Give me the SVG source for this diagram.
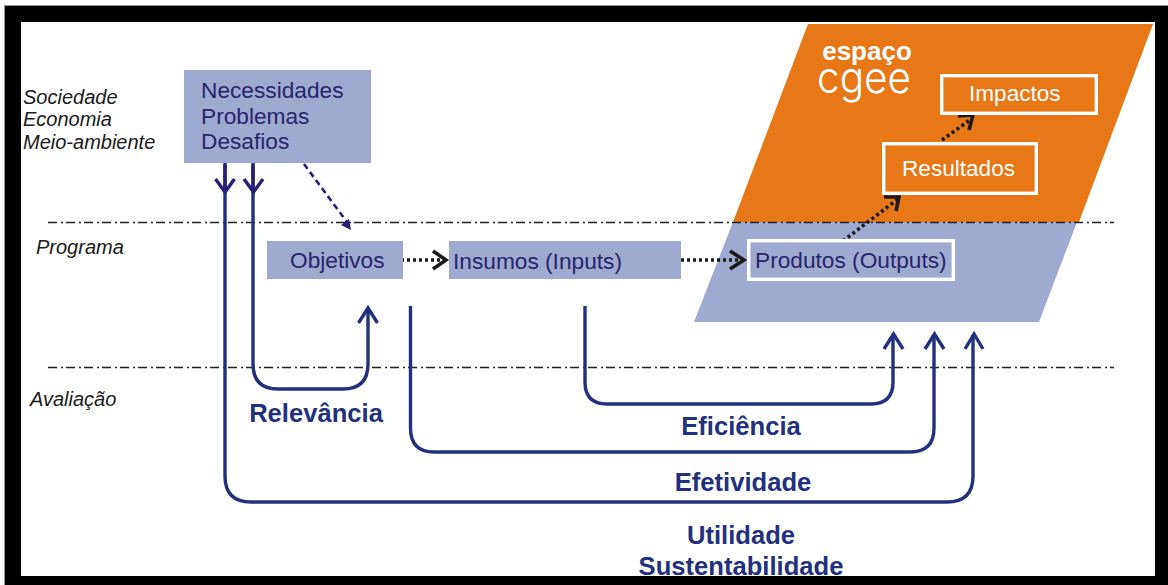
<svg xmlns="http://www.w3.org/2000/svg" width="1168" height="585" viewBox="0 0 1168 585">
<style>
text{font-family:"Liberation Sans",Arial,sans-serif}
.lbl{font-size:22.700px;fill:#2b2370}
.side{font-size:20px;font-style:italic;fill:#1a1a1a}
.crit{font-size:25.600px;font-weight:700;fill:#22307f;text-anchor:middle}
.wht{font-size:22.600px;fill:#fff}
.box{fill:#9eaad0}
.wbox{fill:none;stroke:#fff;stroke-width:3.4}
.flow{fill:none;stroke:#22307f;stroke-width:3.4}
.head{fill:none;stroke:#22307f;stroke-width:3.4}
.dhead{fill:none;stroke:#2a1f78;stroke-width:3.4}
.dot{fill:none;stroke:#1e1a1a;stroke-width:3.6;stroke-dasharray:3 3}
.dothead{fill:none;stroke:#1e1a1a;stroke-width:3.6}
.axis{fill:none;stroke:#222;stroke-width:1.4;stroke-dasharray:9 4 2 3}
</style>
<rect x="4.500" y="5.500" width="1164" height="580" fill="#000" stroke="#999" stroke-width="1"/>
<rect x="21" y="22" width="1134" height="554" fill="#fff"/>
<polygon id="band-orange" points="808,24 1153,24 1079,222 733,222" fill="#e67817"/>
<polygon id="band-blue" points="733,222 1077,222 1039,322 694,322" fill="#9eaad0"/>
<g id="side-labels">
<text class="side" x="23" y="104">Sociedade</text>
<text class="side" x="23" y="126">Economia</text>
<text class="side" x="23" y="149">Meio-ambiente</text>
<text class="side" x="36" y="254">Programa</text>
<text class="side" x="30" y="406">Avaliação</text>
</g>
<g id="logo">
<text x="867" y="60" font-size="26" font-weight="700" fill="#fff" text-anchor="middle">espaço</text>
<text x="817" y="93" font-size="44" font-weight="300" fill="#fff" textLength="94" lengthAdjust="spacingAndGlyphs" style="font-family:'Inter','Open Sans',sans-serif">cgee</text>
</g>
<g id="connectors">
<path class="axis" d="M48 222.500H1114"/>
<path class="axis" d="M48 367.500H1114"/>
<path class="flow" d="M225 165V476Q225 502 251 502H947Q973 502 973 476V335"/>
<path class="flow" d="M253 165V364Q253 389 278 389H343Q368 389 368 364V309"/>
<path class="flow" d="M410.500 306V428Q410.500 452 434 452H910Q934 452 934 428V335"/>
<path class="flow" d="M585 306V382Q585 404 607 404H871Q893 404 893 382V335"/>
<path class="dhead" d="M225 163V191M215.500 179L225 192L234.500 179"/>
<path class="dhead" d="M253 163V191M244 179L253.500 192L263 179"/>
<path class="head" d="M358.500 323L368 308L377.500 323"/>
<path class="head" d="M884 349L893.500 334L903 349"/>
<path class="head" d="M925 349L934.500 334L944 349"/>
<path class="head" d="M965 349L974 334L983 349"/>
<path d="M304 164L347 222" fill="none" stroke="#2a1f78" stroke-width="2.600" stroke-dasharray="6 4"/>
<polygon points="351,230 341,225 349,219" fill="#2a1f78"/>
<path class="dot" d="M401 260H444"/>
<path class="dothead" d="M433 251L446 260L433 269"/>
<path class="dot" d="M681 260H743"/>
<path class="dothead" d="M730 251L744 260L730 269"/>
<path class="dot" d="M843 241L898 199"/>
<path class="dothead" d="M884 197L899 197L896 211"/>
<path class="dot" d="M942 140L970 120"/>
<path class="dothead" d="M958 116L973 115L969 130"/>
</g>
<g id="necessidades"><rect class="box" x="184" y="70" width="187" height="93"/>
<text class="lbl" x="201" y="98">Necessidades</text><text class="lbl" x="201" y="124">Problemas</text><text class="lbl" x="201" y="149">Desafios</text></g>
<g id="objetivos"><rect class="box" x="267" y="241" width="136" height="38"/><text class="lbl" x="290" y="268">Objetivos</text></g>
<g id="insumos"><rect class="box" x="449" y="241" width="232" height="38"/><text class="lbl" x="453" y="269">Insumos (Inputs)</text></g>
<g id="produtos"><rect class="wbox" x="748.700" y="240.700" width="204.600" height="38.600"/><text class="lbl" x="755" y="268">Produtos (Outputs)</text></g>
<g id="resultados"><rect class="wbox" x="883.700" y="143.700" width="152.600" height="49.600"/><text class="wht" x="902" y="176">Resultados</text></g>
<g id="impactos"><rect class="wbox" x="941.700" y="75.700" width="154.600" height="37.600"/><text class="wht" x="969" y="101">Impactos</text></g>
<g id="criteria">
<text class="crit" x="316" y="422">Relevância</text>
<text class="crit" x="741" y="435">Eficiência</text>
<text class="crit" x="743" y="491">Efetividade</text>
<text class="crit" x="741" y="544">Utilidade</text>
<text class="crit" x="741" y="575">Sustentabilidade</text>
</g>
</svg>
